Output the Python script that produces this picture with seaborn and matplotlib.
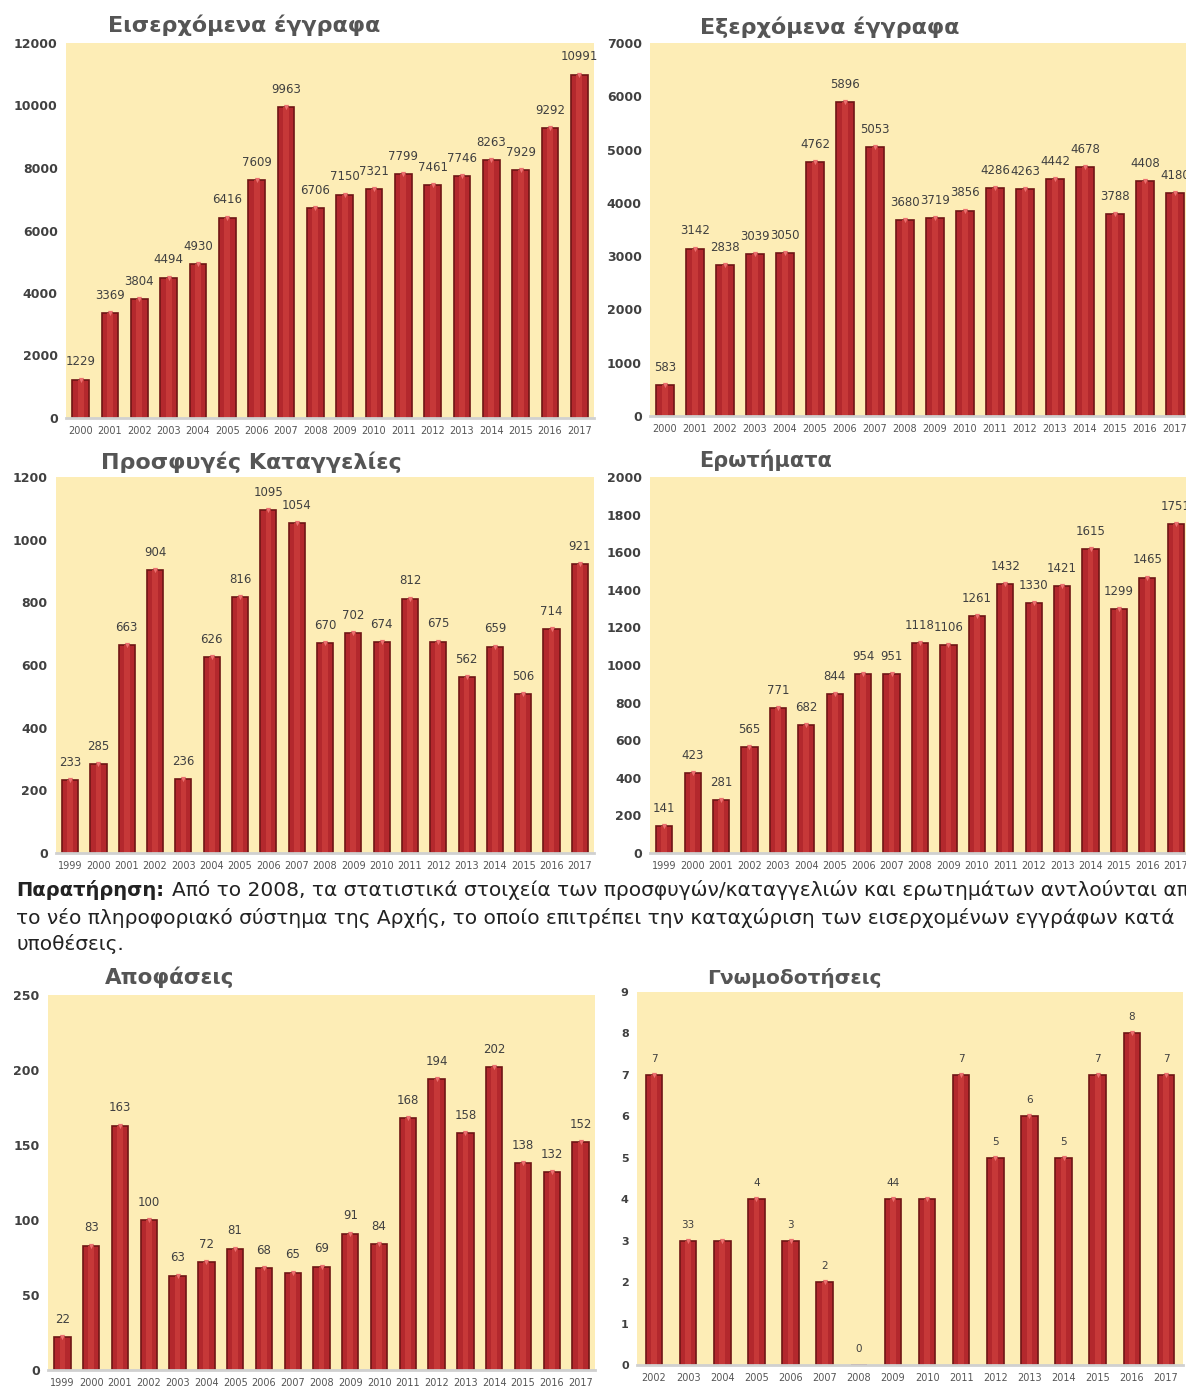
import matplotlib
matplotlib.use('Agg')
import matplotlib.pyplot as plt
import seaborn as sns

# --- data ---
years_2000 = ['2000', '2001', '2002', '2003', '2004', '2005', '2006', '2007', '2008',
              '2009', '2010', '2011', '2012', '2013', '2014', '2015', '2016', '2017']
years_1999 = ['1999'] + years_2000
years_2002 = years_2000[2:]

incoming = [1229, 3369, 3804, 4494, 4930, 6416, 7609, 9963, 6706, 7150, 7321, 7799,
            7461, 7746, 8263, 7929, 9292, 10991]
outgoing = [583, 3142, 2838, 3039, 3050, 4762, 5896, 5053, 3680, 3719, 3856, 4286,
            4263, 4442, 4678, 3788, 4408, 4180]
complaints = [233, 285, 663, 904, 236, 626, 816, 1095, 1054, 670, 702, 674, 812,
              675, 562, 659, 506, 714, 921]
questions = [141, 423, 281, 565, 771, 682, 844, 954, 951, 1118, 1106, 1261, 1432,
             1330, 1421, 1615, 1299, 1465, 1751]
decisions = [22, 83, 163, 100, 63, 72, 81, 68, 65, 69, 91, 84, 168, 194, 158, 202,
             138, 132, 152]
opinions = [7, 3, 3, 4, 3, 2, 0, 4, 4, 7, 5, 6, 5, 7, 8, 7]
opinion_labels = ['7', '33', '', '4', '3', '2', '0', '44', '', '7', '5', '6', '5',
                  '7', '8', '7']

titles = ['Εισερχόμενα έγγραφα', 'Εξερχόμενα έγγραφα', 'Προσφυγές Καταγγελίες',
          'Ερωτήματα', 'Αποφάσεις', 'Γνωμοδοτήσεις']

note_bold = 'Παρατήρηση:'
note_lines = ['Από το 2008, τα στατιστικά στοιχεία των προσφυγών/καταγγελιών και ερωτημάτων αντλούνται από',
              'το νέο πληροφοριακό σύστημα της Αρχής, το οποίο επιτρέπει την καταχώριση των εισερχομένων εγγράφων κατά',
              'υποθέσεις.']

sns.set_style('white')
plt.rcParams['font.family'] = ['DejaVu Sans']

W, H = 1186, 1387
fig = plt.figure(figsize=(W / 100, H / 100), dpi=100)

BG = '#fdedb6'
BAR = '#b3282d'
EDGE = '#6f1515'
HIGHLIGHT = '#c63838'
CAP = '#ec7070'


def px(x0, y_top, x1, y_bot):
    return [x0 / W, 1 - y_bot / H, (x1 - x0) / W, (y_bot - y_top) / H]


def draw_panel(rect, years, values, ymax, ystep, labels=None, width=0.57,
               tick_fs=9, xfs=7, label_fs=8.5):
    ax = fig.add_axes(rect)
    ax.set_facecolor(BG)
    sns.barplot(x=years, y=values, ax=ax, color=BAR, width=width, saturation=1,
                edgecolor=EDGE, linewidth=1.2)
    # lighter core of the bar for a bit of the cylinder look
    sns.barplot(x=years, y=values, ax=ax, color=HIGHLIGHT, width=width * 0.35,
                saturation=1, linewidth=0)
    if labels is None:
        labels = [str(v) for v in values]
    ax.bar_label(ax.containers[0], labels=labels, padding=8, fontsize=label_fs,
                 color='#404040')
    # small light cap on top of each bar
    tops = [(i, v) for i, v in enumerate(values) if v > 0]
    ax.scatter([t[0] for t in tops], [t[1] for t in tops], marker='v', s=14,
               color=CAP, linewidths=0, zorder=5, clip_on=False)
    ax.set_ylim(0, ymax)
    ax.set_yticks(range(0, ymax + 1, ystep))
    ax.set_xlim(-0.5, len(years) - 0.5)
    ax.set_xlabel('')
    ax.set_ylabel('')
    for s in ['top', 'right', 'left']:
        ax.spines[s].set_visible(False)
    ax.spines['bottom'].set_color('#d0d0d0')
    ax.spines['bottom'].set_linewidth(2)
    ax.tick_params(axis='y', length=0, pad=6, labelsize=tick_fs, labelcolor='#404040')
    ax.tick_params(axis='x', length=0, pad=6, labelsize=xfs, labelcolor='#555555')
    for t in ax.get_yticklabels():
        t.set_fontweight('bold')
    return ax


draw_panel(px(66, 43, 594, 418), years_2000, incoming, 12000, 2000)
draw_panel(px(650, 43, 1190, 416), years_2000, outgoing, 7000, 1000)
draw_panel(px(56, 477, 594, 853), years_1999, complaints, 1200, 200)
draw_panel(px(650, 477, 1190, 853), years_1999, questions, 2000, 200)
draw_panel(px(48, 995, 595, 1370), years_1999, decisions, 250, 50)
draw_panel(px(637, 992, 1183, 1365), years_2002, opinions, 9, 1, labels=opinion_labels,
           width=0.48, tick_fs=8, label_fs=7.5)

title_pos = [(244, 25), (830, 27), (251, 462), (766, 460), (170, 977), (794, 978)]
title_fs = [16, 16, 16, 15, 15.5, 14.5]
for t, (x, y), fs in zip(titles, title_pos, title_fs):
    fig.text(x / W, 1 - y / H, t, ha='center', va='center', fontsize=fs,
             fontweight='bold', color='#555555')

fig.text(16 / W, 1 - 890 / H, note_bold, ha='left', va='center', fontsize=14,
         fontweight='bold', color='#222222')
fig.text(172 / W, 1 - 890 / H, note_lines[0], ha='left', va='center', fontsize=14.5,
         color='#222222')
fig.text(16 / W, 1 - 918 / H, note_lines[1], ha='left', va='center', fontsize=14.5,
         color='#222222')
fig.text(16 / W, 1 - 944 / H, note_lines[2], ha='left', va='center', fontsize=14.5,
         color='#222222')

fig.savefig('out.png', dpi=100, facecolor='white')
